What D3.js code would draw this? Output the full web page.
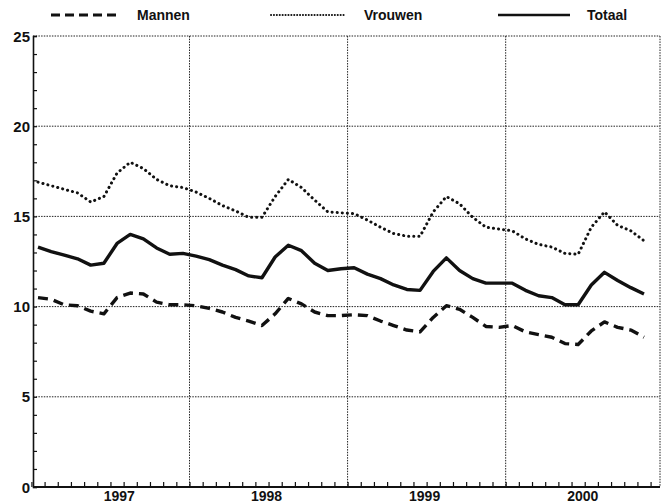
<!DOCTYPE html>
<html>
<head>
<meta charset="utf-8">
<script src="https://cdn.jsdelivr.net/npm/d3@7"></script>
<style>
  body { margin: 0; background: #fff; }
  text { font-family: "Liberation Sans", Arial, sans-serif; font-weight: bold; fill: #111; }
</style>
</head>
<body>
<div id="chart"></div>
<script>
// Monthly figures, Jan 1997 .. Nov 2000
var years = ["1997", "1998", "1999", "2000"];
var yTicks = [0, 5, 10, 15, 20, 25];

var mannen = [10.5, 10.4, 10.1, 10.05, 9.75, 9.6, 10.5, 10.75, 10.7, 10.25, 10.1, 10.1,
  10.05, 9.9, 9.7, 9.4, 9.2, 8.95, 9.6, 10.45, 10.15, 9.7, 9.5, 9.5,
  9.55, 9.5, 9.2, 8.95, 8.7, 8.6, 9.4, 10.05, 9.85, 9.4, 8.9, 8.85,
  8.95, 8.6, 8.45, 8.3, 7.95, 7.9, 8.65, 9.15, 8.85, 8.7, 8.3];

var vrouwen = [16.9, 16.7, 16.5, 16.3, 15.8, 16.1, 17.4, 18.0, 17.65, 17.05, 16.7, 16.6,
  16.35, 16.0, 15.6, 15.3, 14.95, 14.95, 16.1, 17.05, 16.6, 15.9, 15.25, 15.2,
  15.15, 14.8, 14.4, 14.05, 13.9, 13.9, 15.25, 16.1, 15.7, 14.95, 14.4, 14.3,
  14.2, 13.75, 13.45, 13.3, 12.95, 12.9, 14.4, 15.25, 14.5, 14.2, 13.65];

var totaal = [13.3, 13.05, 12.85, 12.65, 12.3, 12.4, 13.5, 14.0, 13.75, 13.25, 12.9, 12.95,
  12.8, 12.6, 12.3, 12.05, 11.7, 11.6, 12.75, 13.4, 13.1, 12.4, 12.0, 12.1,
  12.15, 11.8, 11.55, 11.2, 10.95, 10.9, 11.95, 12.7, 12.0, 11.55, 11.3, 11.3,
  11.3, 10.9, 10.6, 10.5, 10.1, 10.1, 11.2, 11.9, 11.45, 11.05, 10.7];

var width = 662;
var height = 504;

// Plot frame
var plotLeft = 33, plotRight = 660, plotTop = 36, plotBottom = 487;

var svg = d3.select("#chart")
  .append("svg")
  .attr("width", width)
  .attr("height", height);

// month index -> x
var xScale = d3.scaleLinear()
  .domain([0, 46])
  .range([38, 644]);

var yScale = d3.scaleLinear()
  .domain([0, 25])
  .range([plotBottom, plotTop]);

var gridStyle = function(sel) {
  sel.attr("stroke", "#222").attr("stroke-width", 1).attr("stroke-dasharray", "1.5,1.2");
};

// Horizontal grid lines (and top border)
svg.append("g")
  .selectAll("line")
  .data(yTicks.filter(function(d) { return d > 0; }))
  .join("line")
  .attr("x1", plotLeft).attr("x2", plotRight)
  .attr("y1", function(d) { return yScale(d); })
  .attr("y2", function(d) { return yScale(d); })
  .call(gridStyle);

// Vertical year boundaries
var bounds = [11.5, 23.5, 35.5];
svg.append("g")
  .selectAll("line")
  .data(bounds)
  .join("line")
  .attr("x1", function(d) { return xScale(d); })
  .attr("x2", function(d) { return xScale(d); })
  .attr("y1", plotTop).attr("y2", plotBottom)
  .call(gridStyle);

// Right border
svg.append("line")
  .attr("x1", plotRight).attr("x2", plotRight)
  .attr("y1", plotTop).attr("y2", plotBottom)
  .call(gridStyle);

// Left axis with minor ticks at each unit
var yAxis = d3.axisLeft(yScale)
  .tickValues(d3.range(0, 26))
  .tickSize(-4)
  .tickFormat("");
svg.append("g")
  .attr("transform", "translate(" + plotLeft + ",0)")
  .call(yAxis)
  .call(function(g) {
    g.select(".domain").attr("stroke", "#111").attr("stroke-width", 1.6);
    g.selectAll(".tick line").attr("stroke", "#111").attr("stroke-width", 1.2);
  });

// Y labels
svg.append("g")
  .selectAll("text")
  .data(yTicks)
  .join("text")
  .attr("x", plotLeft - 3)
  .attr("y", function(d) { return yScale(d) + 5.5; })
  .attr("text-anchor", "end")
  .style("font-size", "15px")
  .text(function(d) { return d; });

// Bottom axis with monthly ticks
var monthTicks = d3.range(-0.5, 47, 1);
var xAxis = d3.axisBottom(xScale)
  .tickValues(monthTicks)
  .tickSize(-5)
  .tickFormat("");
svg.append("g")
  .attr("transform", "translate(0," + plotBottom + ")")
  .call(xAxis)
  .call(function(g) {
    g.select(".domain").remove();
    g.selectAll(".tick line").attr("stroke", "#111").attr("stroke-width", 1.2);
  });
svg.append("line")
  .attr("x1", plotLeft).attr("x2", plotRight)
  .attr("y1", plotBottom).attr("y2", plotBottom)
  .attr("stroke", "#111").attr("stroke-width", 1.8);

// Year labels centred on the visible part of each year
var yearMid = [
  (xScale(-0.38) + xScale(11.5)) / 2,
  xScale(17.5), xScale(29.5), xScale(41.5)
];
svg.append("g")
  .selectAll("text")
  .data(years)
  .join("text")
  .attr("x", function(d, i) { return yearMid[i] + (i === 0 ? 8 : -2); })
  .attr("y", 501)
  .attr("text-anchor", "middle")
  .style("font-size", "14px")
  .text(function(d) { return d; });

// Lines
var line = d3.line()
  .x(function(d, i) { return xScale(i); })
  .y(function(d) { return yScale(d); });

var series = [
  { name: "Mannen", values: mannen, dash: "10,6", w: 3.4, cap: "butt" },
  { name: "Vrouwen", values: vrouwen, dash: "0.1,5", w: 3, cap: "round" },
  { name: "Totaal", values: totaal, dash: null, w: 3.4, cap: "butt" }
];

svg.append("g")
  .selectAll("path")
  .data(series)
  .join("path")
  .attr("d", function(d) { return line(d.values); })
  .attr("fill", "none")
  .attr("stroke", "#111")
  .attr("stroke-width", function(d) { return d.w; })
  .attr("stroke-linecap", function(d) { return d.cap; })
  .attr("stroke-linejoin", "round")
  .attr("stroke-dasharray", function(d) { return d.dash; });

// Legend
var legendItems = [
  { x1: 51, x2: 119, tx: 137, dash: "9,5", w: 3, cap: "butt" },
  { x1: 271, x2: 345, tx: 364, dash: "0.1,2.8", w: 2, cap: "round" },
  { x1: 498, x2: 570, tx: 587, dash: null, w: 2.6, cap: "butt" }
];
var legend = svg.append("g");
legendItems.forEach(function(it, i) {
  legend.append("line")
    .attr("x1", it.x1).attr("x2", it.x2)
    .attr("y1", 15).attr("y2", 15)
    .attr("stroke", "#111")
    .attr("stroke-width", it.w)
    .attr("stroke-linecap", it.cap)
    .attr("stroke-dasharray", it.dash);
  legend.append("text")
    .attr("x", it.tx)
    .attr("y", 20)
    .style("font-size", "14px")
    .text(series[i].name);
});
</script>
</body>
</html>
